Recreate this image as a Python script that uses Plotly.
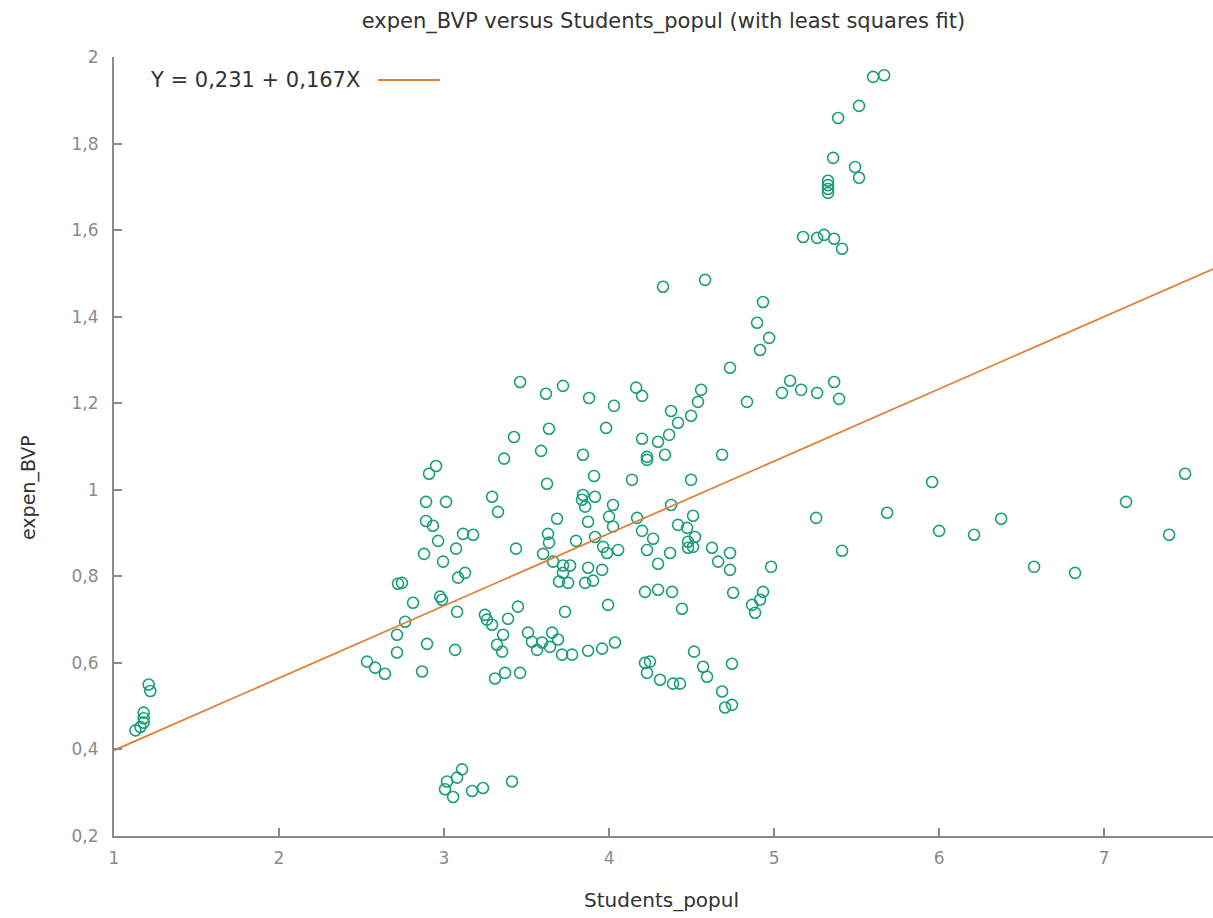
import plotly.graph_objects as go

# ---------------- data ----------------
students_popul = [
    # left cluster
    1.13, 1.16, 1.18, 1.18, 1.18, 1.21, 1.22,
    # low cluster near 3
    3.018, 3.109, 3.079, 3.006, 3.055, 3.170, 3.236, 3.412,
    # 2.5 - 3.8 lower band
    2.721, 2.745, 2.812, 2.976, 2.988, 3.079, 3.248, 3.260, 3.291, 3.388,
    3.448, 3.733, 2.764, 2.715, 2.715, 2.533, 2.582, 2.642, 2.897, 2.867,
    3.067, 3.321, 3.358, 3.352, 3.309, 3.370, 3.461, 3.509, 3.533, 3.564,
    3.594, 3.655, 3.642, 3.691, 3.715, 3.776,
    # 3.8 - 4.9 lower band
    3.855, 3.903, 3.994, 4.218, 4.297, 4.382, 4.442, 4.752, 4.867, 4.915,
    4.933, 4.885, 3.873, 3.958, 4.036, 4.218, 4.248, 4.230, 4.309, 4.388,
    4.430, 4.515, 4.570, 4.594, 4.745, 4.685, 4.703, 4.745,
    # 2.8 - 3.8 middle
    3.461, 3.618, 3.721, 3.636, 3.424, 3.588, 3.364, 2.952, 2.909, 2.891,
    3.012, 3.291, 3.327, 3.624, 3.685, 2.891, 2.933, 2.964, 3.115, 3.176,
    3.073, 2.879, 2.994, 3.436, 3.630, 3.636, 3.600, 3.800, 3.661, 3.721,
    3.764, 3.721, 3.697, 3.752, 3.085, 3.127,
    # 3.8 - 5.0 middle / upper
    4.733, 3.879, 4.164, 4.200, 4.558, 4.539, 4.836, 4.030, 4.376, 4.497,
    4.418, 3.982, 4.364, 4.200, 4.297, 4.339, 4.230, 4.230, 4.685, 3.842,
    3.909, 4.139, 4.497, 3.842, 3.836, 3.915, 3.855, 4.024, 4.376, 3.873,
    4.000, 4.024, 4.170, 4.509, 4.418, 4.473, 4.200, 4.521, 4.479, 4.267,
    3.915, 3.964, 3.988, 4.055, 4.230, 4.370, 4.479, 4.509, 4.624, 4.661,
    4.733, 4.733, 4.297, 4.982, 3.873, 3.958,
    4.327, 4.582,
    # upper right cluster
    5.600, 5.667, 5.515, 5.388, 5.358, 5.491, 5.515, 5.327, 5.327, 5.327,
    5.327, 5.176, 5.261, 5.303, 5.364, 5.412, 4.933, 4.897, 4.970, 4.915,
    5.048, 5.097, 5.164, 5.261, 5.364, 5.394,
    # right tail
    5.255, 5.412, 5.685, 5.958, 6.000, 6.212, 6.376, 6.576, 6.824, 7.133,
    7.491, 7.394,
]

expen_BVP = [
    0.444, 0.452, 0.462, 0.472, 0.485, 0.550, 0.535,
    0.326, 0.354, 0.335, 0.308, 0.290, 0.304, 0.311, 0.326,
    0.783, 0.785, 0.739, 0.753, 0.746, 0.718, 0.711, 0.700, 0.688, 0.702,
    0.730, 0.718, 0.695, 0.665, 0.624, 0.603, 0.589, 0.575, 0.644, 0.580,
    0.630, 0.642, 0.665, 0.626, 0.564, 0.577, 0.577, 0.670, 0.649, 0.630,
    0.647, 0.670, 0.637, 0.654, 0.619, 0.619,
    0.785, 0.790, 0.734, 0.764, 0.769, 0.764, 0.725, 0.762, 0.734, 0.746,
    0.764, 0.716, 0.628, 0.633, 0.647, 0.600, 0.603, 0.577, 0.561, 0.552,
    0.552, 0.626, 0.591, 0.568, 0.598, 0.534, 0.497, 0.503,
    1.249, 1.222, 1.240, 1.141, 1.122, 1.090, 1.072, 1.055, 1.037, 0.972,
    0.972, 0.984, 0.949, 1.014, 0.933, 0.928, 0.917, 0.882, 0.898, 0.896,
    0.864, 0.852, 0.834, 0.864, 0.898, 0.878, 0.852, 0.882, 0.834, 0.825,
    0.825, 0.808, 0.788, 0.785, 0.797, 0.808,
    1.282, 1.212, 1.236, 1.217, 1.231, 1.203, 1.203, 1.194, 1.182, 1.171,
    1.155, 1.143, 1.127, 1.118, 1.111, 1.081, 1.076, 1.069, 1.081, 1.081,
    1.032, 1.023, 1.023, 0.988, 0.977, 0.984, 0.961, 0.965, 0.965, 0.926,
    0.938, 0.915, 0.935, 0.940, 0.919, 0.912, 0.905, 0.891, 0.880, 0.887,
    0.891, 0.868, 0.854, 0.861, 0.861, 0.854, 0.866, 0.868, 0.866, 0.834,
    0.854, 0.815, 0.829, 0.822, 0.820, 0.815,
    1.469, 1.485,
    1.954, 1.958, 1.887, 1.859, 1.767, 1.746, 1.721, 1.714, 1.704, 1.695,
    1.686, 1.584, 1.582, 1.589, 1.580, 1.557, 1.434, 1.386, 1.351, 1.323,
    1.224, 1.252, 1.231, 1.224, 1.249, 1.210,
    0.935, 0.859, 0.947, 1.018, 0.905, 0.896, 0.933, 0.822, 0.808, 0.972,
    1.037, 0.896,
]

fit_intercept = 0.231
fit_slope = 0.167
fit_label = "Y = 0,231 + 0,167X"

x_range = [1.0, 7.66]
y_range = [0.2, 2.0]
x_tickvals = [1, 2, 3, 4, 5, 6, 7]
x_ticktext = ["1", "2", "3", "4", "5", "6", "7"]
y_tickvals = [0.2, 0.4, 0.6, 0.8, 1.0, 1.2, 1.4, 1.6, 1.8, 2.0]
y_ticktext = ["0,2", "0,4", "0,6", "0,8", "1", "1,2", "1,4", "1,6", "1,8", "2"]

# ---------------- figure ----------------
FONT = "DejaVu Sans"
GREEN = "#1b9e77"
ORANGE = "#e47f36"
AXIS = "#8a8a8a"

# plot area in page pixels (body margin removed via post_script)
PL, PR, PT, PB = 114, 1213, 57, 836
W, H = 1213, 918


def px(xp):
    return (xp - PL) / (PR - PL)


def py(yp):
    return (PB - yp) / (PB - PT)


fit_x = x_range
fit_y = [fit_intercept + fit_slope * v for v in fit_x]

fig = go.Figure()
fig.add_trace(go.Scatter(
    x=students_popul, y=expen_BVP, mode="markers",
    marker=dict(symbol="circle-open", size=11, color=GREEN,
                line=dict(width=1.6, color=GREEN)),
    showlegend=False, cliponaxis=False, hoverinfo="skip",
))
fig.add_trace(go.Scatter(
    x=fit_x, y=fit_y, mode="lines",
    line=dict(color=ORANGE, width=1.8),
    showlegend=False, hoverinfo="skip",
))

fig.update_layout(
    width=W, height=H,
    margin=dict(l=PL, r=W - PR, t=PT, b=H - PB, pad=0),
    paper_bgcolor="white", plot_bgcolor="white",
    font=dict(family=FONT, color="#333333"),
    title=dict(text="expen_BVP versus Students_popul (with least squares fit)",
               x=0.5, xref="paper", xanchor="center",
               y=1 - 21 / H, yref="container", yanchor="middle",
               font=dict(family=FONT, size=21, color="#333333")),
    xaxis=dict(range=x_range, tickvals=x_tickvals, ticktext=x_ticktext,
               showgrid=False, zeroline=False, showline=True,
               linecolor=AXIS, linewidth=2, ticks="inside", ticklen=8,
               tickcolor=AXIS, tickwidth=1.5, ticklabelstandoff=6,
               tickfont=dict(family=FONT, size=17, color="#8a8a8a")),
    yaxis=dict(range=y_range, tickvals=y_tickvals, ticktext=y_ticktext,
               showgrid=False, zeroline=False, showline=True,
               linecolor=AXIS, linewidth=2, ticks="inside", ticklen=8,
               tickcolor=AXIS, tickwidth=1.5, ticklabelstandoff=10,
               tickfont=dict(family=FONT, size=17, color="#8a8a8a")),
    annotations=[
        dict(text="Students_popul", xref="paper", yref="paper",
             x=px(661), y=py(900), xanchor="center", yanchor="middle",
             showarrow=False, font=dict(family=FONT, size=20, color="#333333")),
        dict(text="expen_BVP", xref="paper", yref="paper",
             x=px(28), y=py(488), xanchor="center",
             yanchor="middle", textangle=-90, showarrow=False,
             font=dict(family=FONT, size=19, color="#333333")),
        dict(text=fit_label, xref="paper", yref="paper",
             x=px(148), y=py(80), xanchor="left",
             yanchor="middle", showarrow=False,
             font=dict(family=FONT, size=21, color="#333333")),
    ],
    shapes=[
        dict(type="line", xref="paper", yref="paper",
             x0=px(378), x1=px(440), y0=py(80), y1=py(80),
             line=dict(color=ORANGE, width=1.8)),
    ],
)

fig.write_html(
    "out.html",
    config={"displayModeBar": False},
    post_script="document.body.style.margin='0';document.body.style.overflow='hidden';",
)
